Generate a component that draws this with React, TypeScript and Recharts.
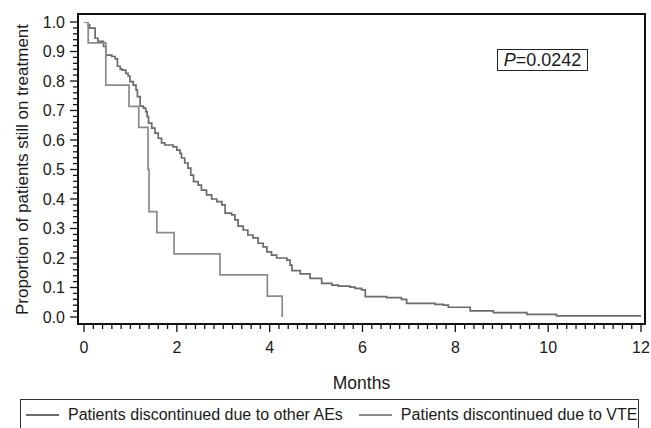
import { LineChart, Line, XAxis, YAxis } from 'recharts'

// Kaplan-Meier style step data (months, proportion still on treatment)
const otherAeMonths = [
  0, 0.09, 0.12, 0.24, 0.3, 0.42, 0.47, 0.6, 0.67, 0.72, 0.78, 0.82, 0.9, 0.95, 0.99, 1.06, 1.12,
  1.15, 1.21, 1.28, 1.33, 1.36, 1.39, 1.46, 1.53, 1.6, 1.67, 1.74, 1.92, 2.0, 2.07, 2.1, 2.17,
  2.24, 2.3, 2.36, 2.46, 2.53, 2.64, 2.75, 2.86, 2.97, 3.04, 3.18, 3.25, 3.32, 3.43, 3.53, 3.64,
  3.75, 3.86, 3.94, 4.04, 4.15, 4.37, 4.44, 4.48, 4.66, 4.87, 5.12, 5.34, 5.48, 5.73, 5.84, 5.98,
  6.06, 6.52, 6.84, 6.95, 7.56, 7.74, 7.85, 8.32, 8.82, 9.54, 10.18, 11.98, 12,
]
const otherAeProp = [
  1.0, 0.99, 0.979, 0.945, 0.934, 0.917, 0.888, 0.883, 0.875, 0.85, 0.84, 0.837, 0.826, 0.817,
  0.798, 0.786, 0.77, 0.747, 0.715, 0.708, 0.696, 0.679, 0.657, 0.64, 0.623, 0.606, 0.59, 0.583,
  0.577, 0.566, 0.555, 0.539, 0.522, 0.505, 0.481, 0.459, 0.447, 0.43, 0.414, 0.4, 0.391, 0.38,
  0.352, 0.346, 0.329, 0.308, 0.295, 0.278, 0.268, 0.25, 0.238, 0.221, 0.21, 0.2, 0.193, 0.176,
  0.157, 0.146, 0.131, 0.114, 0.108, 0.105, 0.101, 0.097, 0.092, 0.069, 0.066, 0.06, 0.046, 0.043,
  0.04, 0.033, 0.021, 0.015, 0.009, 0.004, 0.004, 0.001,
]

const vteMonths = [0, 0.09, 0.47, 0.97, 1.18, 1.38, 1.4, 1.57, 1.94, 2.93, 3.95, 4.27]
const vteProp = [1.0, 0.929, 0.786, 0.714, 0.643, 0.5, 0.357, 0.286, 0.214, 0.143, 0.071, 0]

const seriesNames = ['Patients discontinued due to other AEs', 'Patients discontinued due to VTE']
const seriesColors = ['#6b6b6b', '#8a8a8a']

const xMajorTicks = [0, 2, 4, 6, 8, 10, 12]
const yMajorTicks = [0, 0.1, 0.2, 0.3, 0.4, 0.5, 0.6, 0.7, 0.8, 0.9, 1.0]
const xTicks = Array.from({ length: 61 }, (_, i) => i / 5)
const yTicks = Array.from({ length: 51 }, (_, i) => i / 50)

const pValueLabel = '=0.0242'
const xLabel = 'Months'
const yLabel = 'Proportion of patients still on treatment'

const otherData = otherAeMonths.map((m, i) => ({ month: m, prop: otherAeProp[i] }))
const vteData = vteMonths.map((m, i) => ({ month: m, prop: vteProp[i] }))

const FONT = '"Liberation Sans", Arial, Helvetica, sans-serif'
const isMajor = (list: number[], v: number) => list.some((t) => Math.abs(t - v) < 1e-6)

function XTick({ x, y, payload }: any) {
  const v = payload.value
  const major = isMajor(xMajorTicks, v)
  return (
    <g>
      <line x1={x} x2={x} y1={y + 1} y2={y + 1 + (major ? 7 : 4)} stroke="#111" strokeWidth={1.3} />
      {major && (
        <text x={x} y={y + 29} textAnchor="middle" fontSize={16} fontFamily={FONT} fill="#1a1a1a">
          {Math.round(v)}
        </text>
      )}
    </g>
  )
}

function YTick({ x, y, payload }: any) {
  const v = payload.value
  const major = isMajor(yMajorTicks, v)
  return (
    <g>
      <line x1={x - 1} x2={x - 1 - (major ? 7 : 4)} y1={y} y2={y} stroke="#111" strokeWidth={1.3} />
      {major && (
        <text x={x - 13} y={y + 5.5} textAnchor="end" fontSize={16} fontFamily={FONT} fill="#1a1a1a">
          {v.toFixed(1)}
        </text>
      )}
    </g>
  )
}

function XLabel({ viewBox }: any) {
  const { x, y, width } = viewBox
  return (
    <text x={x + width / 2} y={y + 65} textAnchor="middle" fontSize={17.5} fontFamily={FONT} fill="#1a1a1a">
      {xLabel}
    </text>
  )
}

function YLabel({ viewBox }: any) {
  const { y, height } = viewBox
  const cx = 22
  const cy = y + height / 2
  return (
    <text
      x={cx}
      y={cy}
      transform={`rotate(-90 ${cx} ${cy})`}
      textAnchor="middle"
      dominantBaseline="central"
      fontSize={17}
      fontFamily={FONT}
      fill="#1a1a1a"
    >
      {yLabel}
    </text>
  )
}

export default function App() {
  return (
    <div style={{ position: 'relative', width: 651, height: 428, background: '#fff', overflow: 'hidden', fontFamily: FONT }}>
      <style>{'body{margin:0}'}</style>
      <LineChart width={651} height={428} margin={{ top: 15, right: 6, left: 0, bottom: 0 }}>
        <XAxis
          dataKey="month"
          type="number"
          domain={[0, 12]}
          ticks={xTicks}
          interval={0}
          padding={{ left: 6, right: 4 }}
          height={104}
          tickSize={0}
          tickMargin={0}
          tickLine={false}
          axisLine={false}
          tick={<XTick />}
          label={<XLabel />}
          allowDataOverflow
        />
        <YAxis
          type="number"
          domain={[0, 1]}
          ticks={yTicks}
          interval={0}
          padding={{ top: 7, bottom: 7 }}
          width={78}
          tickSize={0}
          tickMargin={0}
          tickLine={false}
          axisLine={false}
          tick={<YTick />}
          label={<YLabel />}
          allowDataOverflow
        />
        <Line
          data={otherData}
          dataKey="prop"
          name={seriesNames[0]}
          type="stepAfter"
          stroke={seriesColors[0]}
          strokeWidth={1.7}
          dot={false}
          isAnimationActive={false}
        />
        <Line
          data={vteData}
          dataKey="prop"
          name={seriesNames[1]}
          type="stepAfter"
          stroke={seriesColors[1]}
          strokeWidth={1.7}
          dot={false}
          isAnimationActive={false}
        />
      </LineChart>

      {/* plot frame */}
      <div
        style={{
          position: 'absolute',
          left: 77,
          top: 13,
          width: 569,
          height: 312,
          border: '2.5px solid #111',
          boxSizing: 'border-box',
          pointerEvents: 'none',
        }}
      />

      {/* p-value box */}
      <div
        style={{
          position: 'absolute',
          left: 497,
          top: 49,
          width: 91,
          height: 22,
          border: '1px solid #222',
          boxSizing: 'border-box',
          fontSize: 18,
          lineHeight: '20px',
          textAlign: 'center',
          color: '#1a1a1a',
        }}
      >
        <i>P</i>
        {pValueLabel}
      </div>

      {/* legend */}
      <div
        style={{
          position: 'absolute',
          left: 20,
          top: 399,
          width: 619,
          height: 44,
          border: '1px solid #333',
          boxSizing: 'border-box',
          display: 'flex',
          alignItems: 'flex-start',
          paddingTop: 6,
          paddingLeft: 5,
          fontSize: 16,
          lineHeight: '18px',
          color: '#1a1a1a',
          whiteSpace: 'nowrap',
        }}
      >
        {seriesNames.map((name, i) => (
          <div key={name} style={{ display: 'flex', alignItems: 'center', marginRight: i === 0 ? 16 : 0 }}>
            <span style={{ display: 'inline-block', width: 33, height: 2, background: seriesColors[i], marginRight: 9 }} />
            <span>{name}</span>
          </div>
        ))}
      </div>
    </div>
  )
}
